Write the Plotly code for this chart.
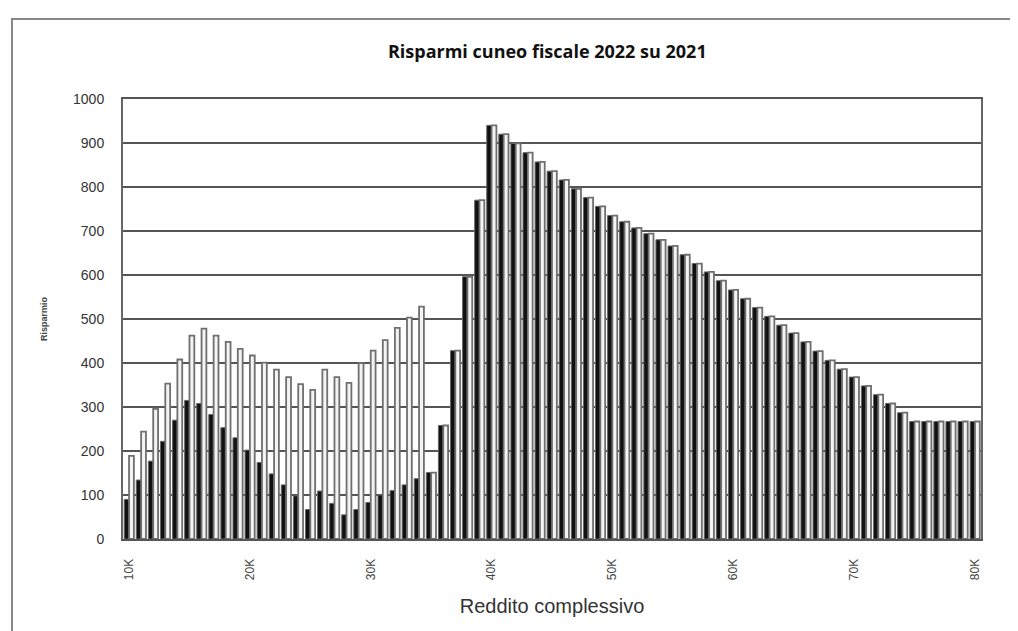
import plotly.graph_objects as go

incomes_k = list(range(10, 81))
categories = [f"{k}K" for k in incomes_k]

# black series
saving_black = [90, 134, 177, 222, 270, 315, 308, 283, 253, 230, 202, 174, 148, 123, 98,
                67, 109, 81, 55, 67, 83, 100, 110, 123, 137, 151, 258, 428, 596, 770,
                940, 920, 899, 878, 857, 836, 816, 796, 776, 756, 735, 721, 707, 694, 680,
                666, 646, 626, 607, 587, 566, 546, 526, 506, 486, 468, 448, 427, 406, 386,
                368, 348, 328, 308, 287, 267, 267, 267, 267, 267, 267]
# white series
saving_white = [189, 244, 296, 353, 408, 462, 478, 462, 448, 432, 417, 401, 385, 368, 352,
                339, 385, 368, 355, 400, 428, 452, 480, 503, 528, 151, 258, 428, 596, 770,
                940, 920, 899, 878, 857, 836, 816, 796, 776, 756, 735, 721, 707, 694, 680,
                666, 646, 626, 607, 587, 566, 546, 526, 506, 486, 468, 448, 427, 406, 386,
                368, 348, 328, 308, 287, 267, 267, 267, 267, 267, 267]

tick_labels = ["10K", "20K", "30K", "40K", "50K", "60K", "70K", "80K"]
y_ticks = [0, 100, 200, 300, 400, 500, 600, 700, 800, 900, 1000]

fig = go.Figure()
fig.add_trace(go.Bar(x=categories, y=saving_black, name="A",
                     marker=dict(color="#111111", line=dict(color="#666666", width=1))))
fig.add_trace(go.Bar(x=categories, y=saving_white, name="B",
                     marker=dict(color="#f4f4f4", line=dict(color="#6f6f6f", width=1.8))))

fig.update_layout(
    width=1010, height=623,
    margin=dict(l=115, r=37, t=91, b=92),
    paper_bgcolor="white", plot_bgcolor="white",
    barmode="group", bargap=0.2, bargroupgap=0,
    showlegend=False,
    title=dict(text="<b>Risparmi cuneo fiscale 2022 su 2021</b>", x=0.534, xanchor="center",
               y=0.93, yanchor="middle",
               font=dict(family="Open Sans", size=18, color="#111111")),
    xaxis=dict(type="category", tickmode="array", tickvals=tick_labels, ticktext=tick_labels,
               tickangle=-90, tickfont=dict(family="Liberation Sans", size=12, color="#444444"),
               ticklabelstandoff=13,
               showgrid=False, showline=True, linecolor="#555555", linewidth=2, mirror=True,
               ticks="", title=dict(text="Reddito complessivo", standoff=20,
                                     font=dict(family="Liberation Sans", size=20, color="#333333"))),
    yaxis=dict(range=[0, 1000], tickvals=y_ticks, showgrid=True, gridcolor="#555555", gridwidth=2,
               showline=True, linecolor="#666666", linewidth=2, mirror=True, zeroline=False,
               ticks="", ticklabelstandoff=14,
               tickfont=dict(family="Liberation Sans", size=14, color="#333333"),
               title=dict(text="<b>Risparmio</b>", standoff=24,
                          font=dict(family="Liberation Sans", size=9, color="#444444"))),
)

fig.add_shape(type="rect", xref="paper", yref="paper", x0=-0.1294, x1=1.04, y0=-0.3, y1=1.182,
              line=dict(color="#888888", width=2), fillcolor="rgba(0,0,0,0)", layer="below")

fig.write_html("out.html")
